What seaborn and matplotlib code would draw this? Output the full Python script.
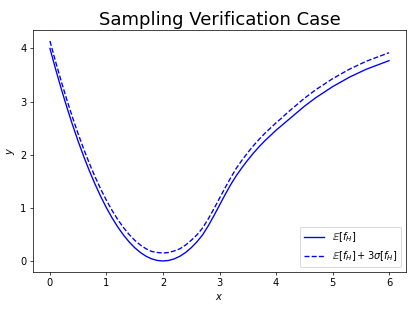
import numpy as np
import pandas as pd
import matplotlib
matplotlib.use("Agg")
import matplotlib.pyplot as plt
import seaborn as sns

x_vals = [0.0, 0.1, 0.2, 0.3, 0.4, 0.5, 0.6, 0.7, 0.8, 0.9,
          1.0, 1.1, 1.2, 1.3, 1.4, 1.5, 1.6, 1.7, 1.8, 1.9,
          2.0, 2.1, 2.2, 2.3, 2.4, 2.5, 2.6, 2.7, 2.8, 2.9,
          3.0, 3.1, 3.2, 3.3, 3.4, 3.5, 3.6, 3.7, 3.8, 3.9,
          4.0, 4.1, 4.2, 4.3, 4.4, 4.5, 4.6, 4.7, 4.8, 4.9,
          5.0, 5.1, 5.2, 5.3, 5.4, 5.5, 5.6, 5.7, 5.8, 5.9, 6.0]

mean_vals = [4.00, 3.61, 3.24, 2.89, 2.56, 2.25, 1.96, 1.69, 1.44, 1.21,
             1.00, 0.81, 0.64, 0.49, 0.36, 0.25, 0.16, 0.09, 0.04, 0.01,
             0.00, 0.01, 0.04, 0.09, 0.16, 0.25, 0.36, 0.49, 0.66, 0.85,
             1.05, 1.25, 1.44, 1.61, 1.76, 1.90, 2.03, 2.15, 2.26, 2.36,
             2.46, 2.55, 2.64, 2.73, 2.82, 2.91, 2.99, 3.07, 3.14, 3.21,
             3.28, 3.34, 3.40, 3.46, 3.51, 3.56, 3.61, 3.65, 3.69, 3.73, 3.77]

upper_vals = [4.14, 3.75, 3.38, 3.03, 2.70, 2.39, 2.10, 1.83, 1.58, 1.35,
              1.14, 0.95, 0.78, 0.63, 0.50, 0.39, 0.30, 0.23, 0.18, 0.16,
              0.15, 0.16, 0.19, 0.23, 0.30, 0.39, 0.49, 0.62, 0.79, 0.98,
              1.18, 1.38, 1.57, 1.75, 1.90, 2.04, 2.17, 2.29, 2.40, 2.50,
              2.60, 2.69, 2.79, 2.88, 2.97, 3.06, 3.14, 3.22, 3.29, 3.36,
              3.43, 3.49, 3.55, 3.61, 3.66, 3.71, 3.76, 3.80, 3.84, 3.88, 3.92]

label_mean = r'$\mathbb{E}[f_H]$'
label_upper = r'$\mathbb{E}[f_H] + 3\sigma[f_H]$'

df = pd.DataFrame({"x": x_vals, "mean": mean_vals, "upper": upper_vals})

plt.rcParams["font.size"] = 11

fig = plt.figure(figsize=(415 / 65, 312 / 65), dpi=65)
ax = fig.add_axes([33 / 415, 1 - 272 / 312, (406 - 33) / 415, (272 - 30) / 312])

sns.lineplot(data=df, x="x", y="mean", ax=ax, color="blue", linestyle="-",
             linewidth=1.5, label=label_mean)
sns.lineplot(data=df, x="x", y="upper", ax=ax, color="blue", linestyle="--",
             linewidth=1.5, label=label_upper)

ax.set_title("Sampling Verification Case", fontsize=20)
ax.set_xlabel("$x$", fontsize=11)
ax.set_ylabel("$y$", fontsize=11)
ax.set_xticks([0, 1, 2, 3, 4, 5, 6])
ax.set_yticks([0, 1, 2, 3, 4])
ax.tick_params(labelsize=11)
ax.legend(loc="lower right", fontsize=11)

fig.savefig("out.png", dpi=65)
